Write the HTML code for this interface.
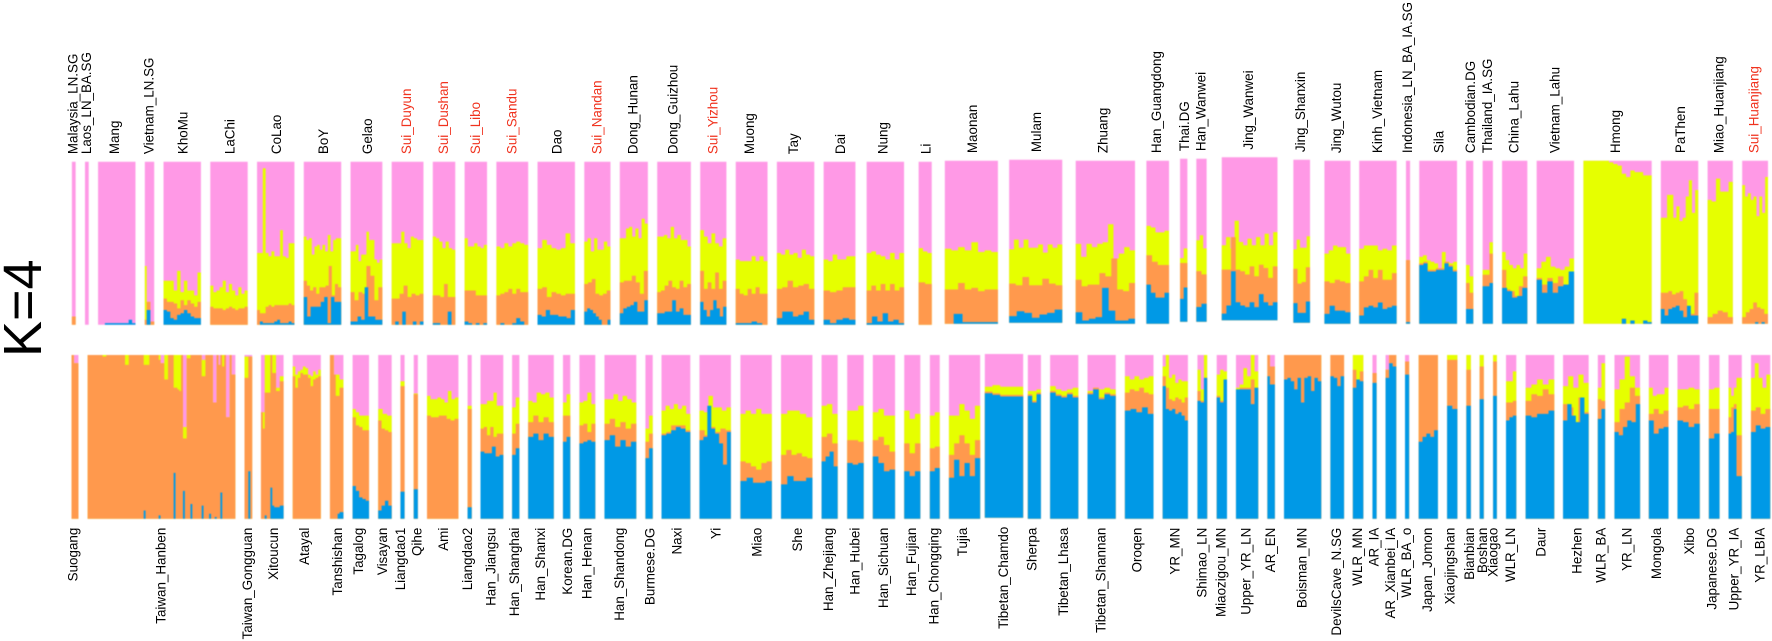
<!DOCTYPE html>
<html lang="en">
<head>
<meta charset="utf-8">
<title>K=4 ancestry proportions</title>
<style>
html,body{margin:0;padding:0;background:#fff;width:1772px;height:641px;overflow:hidden}
svg{display:block}
text{font-family:"Liberation Sans",Arial,sans-serif}
</style>
</head>
<body>
<svg id="chart" width="1772" height="641" viewBox="0 0 1772 641" xmlns="http://www.w3.org/2000/svg">
<text transform="translate(41,357) rotate(-90)" font-size="54" fill="#000">K=4</text>
</svg>
<script>
const topNames=["Malaysia_LN.SG","Laos_LN_BA.SG","Mang","Vietnam_LN.SG","KhoMu","LaChi","CoLao","BoY","Gelao","Sui_Duyun","Sui_Dushan","Sui_Libo","Sui_Sandu","Dao","Sui_Nandan","Dong_Hunan","Dong_Guizhou","Sui_Yizhou","Muong","Tay","Dai","Nung","Li","Maonan","Mulam","Zhuang","Han_Guangdong","Thai.DG","Han_Wanwei","Jing_Wanwei","Jing_Shanxin","Jing_Wutou","Kinh_Vietnam","Indonesia_LN_BA_IA.SG","Sila","Cambodian.DG","Thailand_IA.SG","China_Lahu","Vietnam_Lahu","Hmong","PaThen","Miao_Huanjiang","Sui_Huanjiang"];
const topCounts=[2,2,20,5,20,20,20,20,17,17,12,12,17,20,14,15,18,14,17,20,17,20,7,28.4,28.4,31.7,12.1,3.9,5.5,29.8,8.9,13.9,20,2.2,20.2,3.9,5.5,13.5,20,36.5,20,13.5,13.8];
const topGaps=[0,5,5,5,5,5,5,5,5,5,5,5,5,5,5,5,5,5,5,5,5,6,7.8,7,6,7.2,6.1,5.9,4.8,8.1,8.5,7.7,4.7,5,4.9,4.8,5,4.9,5,5,4.9,5,5];
const topLift=[0,0,0,0,0,0,0,0,0,0,0,0,0,0,0,0,0,0,0,0,0,0,0,1,2,1,1,3,3,4.5,2,1,1,1,1,1,1,1,1,1,1,1,1];
const topYellow=[
[5,5],[0],[0],
[36,14,14,2,2],
[27,27,27,21,33,20,27,21,21,18,32],
[24,20,21,23,27,20,25,21,18,23,19,21],
[44,44,96,44,42,45,42,42,58,42,41,50,50],
[54,52,53,43,48,49,46,49,45,55,45,52,53,53],
[45,45,49,39,43,43,57,52,52,40,38,40],
[50,50,50,57,50,47,54,53,52,52],
[54,53,51,47,51,47,46],
[53,48,48,50,48,47,49],
[48,47,50,48,50,51,50,49],
[47,52,49,47,46,47,56,50],
[51,53,45,53,46,46,51,48],
[53,53,59,60,54,59,53,65,62],
[54,54,55,53,60,53,55,52,52,48],
[58,54,50,56,50,48,53],
[40,39,39,39,42,39,42,39],
[44,43,46,43,44,41,46,43,42],
[40,39,43,40,40,42,42],
[44,45,43,42,40,44,40,44],
[47,45,44],
[46,45,47,45,50,44,45,44],
[45,51,46,51,46,46,48,43,48,46,48],
[49,41,49,47,49,50,61,40,43,47,45],
[60,59,56,56,57],
[39,45],
[50,53,45],
[46,51,44,61,48,46,50,46,51,46,53,46,54],
[45,51,46,46,53],
[43,45,48,47,47,43],
[46,48,48,48,45,46,45,48],
[39],
[41,42,39,38,37,33,44,38,37,38],
[36,29],
[33,33,50],
[44,39,36,34,36,34,43],
[34,38,41,35,34,33,35,40],
[100,100,100,100,100,100,99,98,97,92,90,94,93,93,91,91],
[65,65,79,79,65,72,63,65,78,88,68,82],
[76,75,89,81,81,87],
[85,78,80,76,78,66,78,68,90]
];
const topOrange=[
[5,5],[0],[0],
[3,14,14,2,2],
[16,14,14,13,10,15,12,15,13,11,14],
[11,10,10,10,9,10,11,10,9,10,10,11],
[9,7,7,11,12,11,12,12,12,12,12,13,12],
[27,24,21,23,19,23,23,24,36,18,25,23],
[20,15,20,19,36,30,15,23],
[16,16,19,24,17,19,18,19],
[18,18,17,25,17,17],
[21,21,21,18,18,18],
[18,19,20,22,19,22,20,20],
[22,23,17,20,19,18,19,19],
[25,26,28,19,18,19,21],
[26,27,27,30,26,19,33],
[20,21,24,27,23,22,27,23,25],
[33,22,26,22,32,22,27],
[22,19,18,22,19,23,19,19],
[22,23,27,23,24,25,22],
[21,20,21,23,23],
[21,24,21,25,21,25,21,23],
[26,25],
[21,21,25,21,22,20,21,21],
[24,23,28,23,23,27,24,23],
[27,23,24,24,31,29,40,21,20,25],
[42,38,36,36],
[36,36],
[31,29],
[31,31,51,31,30,28,33,27,34,32,26,33],
[33,24,25,34],
[26,25,27,26,25],
[26,29,33,28,33,27,27,31],
[39],
[37,38,33,33,34,34,38,36,33],
[25,19],
[30,30,43],
[33,21,20,17,23,29],
[28,24,28,25,29,24,30],
[0,0,0,0,0,0,0,0,0,3,0,2,0,0,2,1],
[19,19,20,18,19,20,15,8,6,19],
[4,6,8,7,4],
[4,7,9,13,10,9,6]
];
const topBlue=[
[0],[0],
[0,0,1,1,1,1,1,1,1,3,1],
[0,9,9,0,0],
[9,8,4,3,6,7,9,7,5,4,4],
[0],
[0,2,1,1,1,1,2,3,1,1,1,2,1],
[17,5,11,11,11,14,17,1,17,14,14],
[2,2,5,3,23,5,5,3,3],
[0,2,0,8,0,0,2,0,2],
[1,1,0,0,8,0],
[2,1,0,1,0,1],
[0,1,0,0,1,4,2,0],
[6,5,9,6,6,5,5,4,9],
[8,10,9,7,5,3,0,0,3],
[7,10,11,12,14,8,8,15],
[7,7,8,8,15,8,10,6,6],
[14,9,5,9,15,10,5,11],
[1,1,1,2,1,0],
[4,8,8,5,6,8,3],
[3,1,3,4,3],
[1,5,2,7,2,3,1],
[0],
[0,6,1,1,1,1],
[4,7,6,3,5,6,8],
[7,2,3,4,22,8,2,2,3],
[24,19,16,16,19],
[14,21],
[9,11],
[4,9,30,11,9,8,11,8,16,11,9,11],
[12,6,6,13],
[6,11,8,8,7],
[5,10,11,10,13,9,10,11],
[1],
[36,37,32,32,33,33,37,35,32],
[9,9],
[23,23,25],
[22,20,16,17,22],
[27,19,26,19,23,24,32],
[0,0,0,0,0,0,0,0,0,3,0,2,0,0,2,1],
[9,5,9,10,11,8,4,11,5,5],
[0],
[0,0,0,0,1,0,1,0]
];

const bottomNames=["Suogang","Taiwan_Hanben","Taiwan_Gongguan","Xitoucun","Atayal","Tanshishan","Tagalog","Visayan","Liangdao1","Qihe","Ami","Liangdao2","Han_Jiangsu","Han_Shanghai","Han_Shanxi","Korean.DG","Han_Henan","Han_Shandong","Burmese.DG","Naxi","Yi","Miao","She","Han_Zhejiang","Han_Hubei","Han_Sichuan","Han_Fujian","Han_Chongqing","Tujia","Tibetan_Chamdo","Sherpa","Tibetan_Lhasa","Tibetan_Shannan","Oroqen","YR_MN","Shimao_LN","Miaozigou_MN","Upper_YR_LN","AR_EN","Boisman_MN","DevilsCave_N.SG","WLR_MN","AR_IA","AR_Xianbei_IA","WLR_BA_o","Japan_Jomon","Xiaojingshan","Bianbian","Boshan","Xiaogao","WLR_LN","Daur","Hezhen","WLR_BA","YR_LN","Mongola","Xibo","Japanese.DG","Upper_YR_IA","YR_LBIA"];
const bottomCounts=[3.7,79,4.1,12.1,15,7.2,8.8,7.2,2.2,2.2,16.8,2.2,12.2,3.9,13.7,3.9,8.5,17,3.9,15.4,16.8,16.8,16.8,8.6,8.8,11.9,8.6,5.3,16.7,20.5,7,15.1,15.1,15.3,13.5,5.2,5.5,11.9,4,19.9,7.3,5.6,2.2,5.7,2.2,10.3,5.5,2.4,2.2,2,5.5,15.3,13.7,3.9,13.7,10.5,11.9,5.7,7.1,10.3];
const bottomGaps=[-0.2,4.9,4.9,4.7,4.9,4.9,4.9,4.9,4.7,4.9,4.9,4.9,4.7,4.7,4.7,4.9,4.9,4.9,4.9,4.7,4.9,5.1,4.9,4.9,5.1,4.9,4.9,5.1,4.9,2.5,2.5,4.9,4.9,4.9,4.9,5.1,5.1,4.8,4.9,4.9,4.9,4.7,4.9,4.8,4.7,5.1,4.9,4.8,4.7,5,4.9,5,4.7,4.9,5,4.7,4.8,4.9,4.8,4.9];
const bottomLift=[0,0,0,0,0,0,0,0,0,0,0,0,0,0,0,0,0,0,0,0,0,0,0,0,0,0,0,0,0,1,0,0,0,0,0,0,0,0,0,0,0,0,0,0,0,0,0,0,0,0,0,0,0,0,0,0,0,0,0,0];
const bottomYellow=[
[100,95,95],
[100,100,100,100,100,100,100,100,100,100,100,100,100,100,100,100,100,100,100,100,100,100,100,100,100,100,100,100,100,100,100,100,100,100,100,100,100,100,100,95,95,100,100,100,100,100,100,100,100,100,100,56,56,100,100,100,100,100,100,100,100,97,97,100,100,100,100,71,71,100,94,100,100,100,62,62,100,88,88],
[99,99,99,99],
[65,65,100,100,100,100,100,100,80,80,87,87],
[93,88,90,91,93,92,88,87,90,88,91],
[100,100,88,88,88,85,85],
[67,65,63,63,63],
[67,64,63],
[84],
[76.5],
[75,73,73,74,73,71,78,73,74],
[69],
[70,70,72,72,77,69,69],
[68,74],
[72,71,77,76,77,74],
[71,76],
[71,72,77,70],
[73,73,76,72,75,73,71],
[55,63],
[66,69,67,70,67,69,64],
[66,65,75,68,68,66,68],
[64,66,64,67,64,64],
[64,66,66,64,62],
[69,70,64],
[66,66,69],
[65,67,63,63],
[66,61,64],
[63,65],
[63,63,70,66,61,69],
[80,81,80,80,80],
[78,78,79],
[81,79,78,79,80],
[78,80,79,80,79],
[87,85,87,85,86,87],
[93,100,86,88,83,85,84,84],
[91,79,100],
[88,91,90],
[80,82,92,87,100,90],
[100,93,93],
[100],
[100],
[100],
[89],
[91,100,100],
[96],
[100],
[100],
[100],
[100],
[100],
[84,84,90],
[80,82,85,82,85],
[81,87,80,88,83],
[80,95],
[79,85,99,87,80],
[80,75,76,76,80],
[79,79,80,79],
[79,80],
[80,75,80,86,86],
[86,95,86,80,88]
];
const bottomOrange=[
[100,95,95],
[100,100,100,100,100,100,100,100,99,99,100,100,100,100,100,100,100,100,100,100,94,94,100,100,100,100,100,100,100,100,94,94,94,100,100,100,100,100,97,95,95,85,85,100,100,100,80,80,79,78,100,49,49,98,98,100,100,100,100,100,100,87,87,100,100,100,100,71,71,100,94,100,93,100,62,62,100,88,88],
[86,86,99,99],
[65,55,77,77,77,100,89,89,78,78,84,84],
[87,80,86,89,88,88,86,81,85,86,87],
[100,100,88,75,75,80,80],
[62,57,56,54,54],
[60,55,54,53],
[81],
[76],
[63,62,62,63,63,61,60,61],
[67],
[55,56,51,56,50,52,52],
[52,58],
[59,63,59,62,59],
[63,63],
[57,58,53,58],
[58,61,56,59,55,58],
[47,52],
[52,53,57,57,57,54],
[54,51,56,53,55,54],
[35,34,32,30,34,35],
[39,42,39,40,38,37],
[50,52,46],
[48,48,47],
[48,50,45,41],
[46,40,46],
[43,44],
[39,46,51,46,39,48],
[77,76,75,75,75],
[76,72,77],
[78,76,75,77,75],
[77,80,74,77,76],
[77,79,78,80,77,76],
[87,80,73,72,74,73,71,74],
[78,72,86],
[75,72,85],
[79,80,80,80,85,80],
[100,93,93],
[100],
[100],
[91,85,90],
[89],
[91,100,100],
[96],
[100],
[97],
[91],
[93],
[96],
[71,71,72],
[72,76,75,79,76],
[70,68,59,74,65],
[73,72],
[59,67,71,80,75],
[64,67,64,66],
[68,69,67,70],
[67,67],
[62,68,70,51,51],
[66,68,64,67]
];
const bottomBlue=[
[0],
[0,0,0,0,0,0,0,0,0,0,0,0,0,0,0,0,0,0,0,0,0,0,0,0,0,0,0,0,0,0,5,0,0,0,0,0,0,0,2,0,0,0,0,0,0,0,28,0,0,0,0,17,0,0,0,9,0,0,0,0,0,8,0,0,0,3,0,0,1,0,0,16,0,0,0,0,0,0,0],
[0,0,29,0],
[0,0,2,0,0,19,8,7,7,7,8,8],
[0],
[0,0,0,0,3,4,4],
[20,17,13,12,11],
[5,8,11,8],
[16.5],
[18],
[0],
[7],
[41,40,40,44,38,39],
[39,43],
[50,52,48,52,50],
[47,50],
[46,47,48,47],
[48,51,44,48,44,47],
[37,43],
[51,52,54,56,55,53],
[48,50,69,55,52,46,33,53],
[23,25,22,22,23],
[21,26,23,23,25],
[35,38,41,32],
[34,33,34],
[38,34,29,30],
[29,26,29],
[29,31],
[25,36,26,34,26,37],
[76,75,74,74,74],
[75,71,76],
[77,75,74,76,74],
[76,79,73,76,75],
[66,67,65,68,64],
[81,67,66,67,64,65,63,60],
[72,71,86],
[74,71,85],
[79,79,79,79,70,80],
[87,82,82],
[85,86,84,79,86,71,86,87,78,86,84],
[87,86,81,87],
[80,85,84],
[83],
[86,95,93],
[88],
[47,50,52,50,54],
[69,67],
[69],
[73],
[75],
[60,62,63],
[63,62,64,64,66],
[60,70,63,59,74,64],
[61,67],
[53,51,56,60,59,70],
[60,52,55,56],
[60,59,56,58],
[49,52],
[52,53,67,26,26],
[53,57,55,56]
];

const seriesColors={pink:"#ff99e6",yellow:"#e6ff00",orange:"#ff994d",blue:"#0099e6"};
const svgNS="http://www.w3.org/2000/svg";
const chart=document.getElementById("chart");
const sampleOrigin=71.9, samplePx=1.87;
function xAxis(u){return sampleOrigin+u*samplePx;}
function yAxis(row,pct,lift){return row.base-lift-pct*row.height/100;}
function make(tag,attrs,parent){
  const el=document.createElementNS(svgNS,tag);
  for(const k in attrs){el.setAttribute(k,attrs[k]);}
  parent.appendChild(el);
  return el;
}
function labelShift(name){
  const descends=/[gjpqy]/.test(name), under=name.indexOf("_")>=0;
  if(descends&&!under){return 2.3;}
  if(descends&&under){return 3.5;}
  if(under){return 4;}
  return 5.5;
}
function stepPath(row,from,span,lift,values){
  const n=values.length;
  let d="M"+xAxis(from).toFixed(2)+" "+yAxis(row,0,lift).toFixed(2);
  values.forEach(function(v,i){
    const x0=xAxis(from+span*i/n).toFixed(2), x1=xAxis(from+span*(i+1)/n).toFixed(2), y=yAxis(row,v,lift).toFixed(2);
    d+="L"+x0+" "+y+"L"+x1+" "+y;
  });
  return d+"L"+xAxis(from+span).toFixed(2)+" "+yAxis(row,0,lift).toFixed(2)+"Z";
}
function drawRow(row){
  const bars=make("g",{style:"filter:blur(0.45px)"},chart);
  
  
  const labels=make("g",{style:"filter:blur(0.3px)"},chart);
  
  
  let cursor=0;
  row.names.forEach(function(name,i){
    cursor+=row.gaps[i];
    const from=cursor, span=row.counts[i], lift=row.lift[i];
    const group=make("g",{},bars);
    
    
    const pink=make("path",{d:stepPath(row,from,span,lift,[100]),fill:seriesColors.pink},group);
    
    
    const yellow=make("path",{d:stepPath(row,from,span,lift,row.yellow[i]),fill:seriesColors.yellow},group);
    
    
    const orange=make("path",{d:stepPath(row,from,span,lift,row.orange[i]),fill:seriesColors.orange},group);
    
    
    const blue=make("path",{d:stepPath(row,from,span,lift,row.blue[i]),fill:seriesColors.blue},group);
    
    
    const cx=xAxis(from+span/2)+labelShift(name);
    const ly=row.labelsAbove?yAxis(row,100,lift)-7.6:yAxis(row,0,lift)+9;
    const label=make("text",{transform:"translate("+cx.toFixed(2)+","+ly.toFixed(2)+") rotate(-90)","font-size":"13.4","text-anchor":row.labelsAbove?"start":"end",fill:name.indexOf("Sui_")===0?"#f0321e":"#000"},labels);
    label.textContent=name;
    
    
    cursor+=span;
  });
}
drawRow({names:topNames,counts:topCounts,gaps:topGaps,lift:topLift,yellow:topYellow,orange:topOrange,blue:topBlue,base:324.7,height:163,labelsAbove:true});
drawRow({names:bottomNames,counts:bottomCounts,gaps:bottomGaps,lift:bottomLift,yellow:bottomYellow,orange:bottomOrange,blue:bottomBlue,base:518.7,height:163.7,labelsAbove:false});
</script>
</body>
</html>
